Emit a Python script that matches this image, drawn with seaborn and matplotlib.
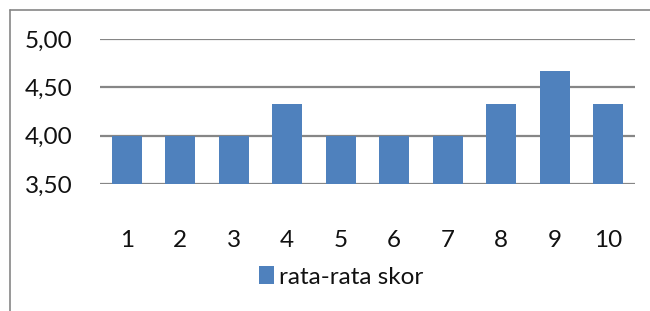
import matplotlib
matplotlib.use("Agg")
import matplotlib.pyplot as plt
import seaborn as sns
import pandas as pd
from matplotlib.ticker import FuncFormatter
from matplotlib.patches import Patch
from matplotlib.lines import Line2D

# data
categories = ["1", "2", "3", "4", "5", "6", "7", "8", "9", "10"]
scores = [4.00, 4.00, 4.00, 4.33, 4.00, 4.00, 4.00, 4.33, 4.67, 4.33]
series_name = "rata-rata skor"

bar_color = "#4F81BD"
grid_color = "#868686"

sns.set_style("white")
plt.rcParams["font.family"] = ["Lato", "DejaVu Sans"]

df = pd.DataFrame({"Item": categories, "Skor": scores})

fig = plt.figure(figsize=(6.5, 3.11), dpi=100)
ax = fig.add_axes([100 / 650, 1 - 184 / 311, 535 / 650, 145 / 311])

sns.barplot(data=df, x="Item", y="Skor", color=bar_color, width=0.56,
            saturation=1, linewidth=0, ax=ax, zorder=3)

ax.set_ylim(3.5, 5.0)
ax.set_yticks([3.5, 4.0, 4.5, 5.0])
ax.yaxis.set_major_formatter(FuncFormatter(lambda v, p: f"{v:.2f}".replace(".", ",")))
ax.grid(axis="y", color=grid_color, linewidth=1.6, zorder=0)
ax.set_axisbelow(True)
for s in ax.spines.values():
    s.set_visible(False)
ax.set_xlabel("")
ax.set_ylabel("")
ax.tick_params(axis="both", length=0, labelsize=17.5, colors="#111111")
ax.tick_params(axis="x", pad=33)
ax.tick_params(axis="y", pad=20)

# chart border (left and top only visible)
fig.add_artist(Line2D([10 / 650, 10 / 650], [0, 1 - 10 / 311], color=grid_color,
                      linewidth=1.2, transform=fig.transFigure))
fig.add_artist(Line2D([10 / 650, 1], [1 - 10 / 311, 1 - 10 / 311], color=grid_color,
                      linewidth=1.2, transform=fig.transFigure))

handle = Patch(facecolor=bar_color, edgecolor="none")
fig.legend([handle], [series_name], loc="center", bbox_to_anchor=(341 / 650, 1 - 277 / 311),
           frameon=False, fontsize=17.5, handlelength=0.6, handleheight=0.75,
           handletextpad=0.2, labelcolor="#111111")

fig.savefig("out.png", dpi=100)
